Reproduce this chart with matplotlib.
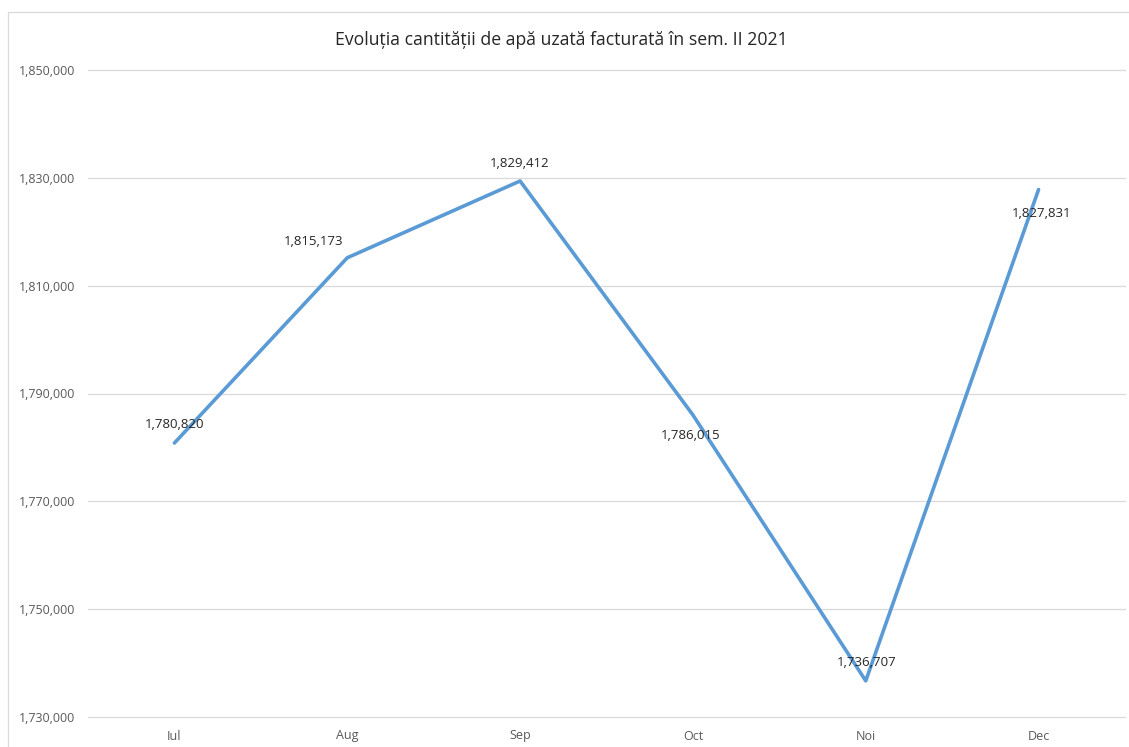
import matplotlib.pyplot as plt
from matplotlib.patches import Rectangle
from matplotlib.ticker import FuncFormatter

plt.rcParams['font.family'] = ['Open Sans', 'DejaVu Sans']

luni = ['Iul', 'Aug', 'Sep', 'Oct', 'Noi', 'Dec']
valori = [1780820, 1815173, 1829412, 1786015, 1736707, 1827831]
# decalaj etichete (pixeli) fata de punct
decalaje = [(0, 18), (-34, 16), (0, 18), (-2, -21), (1, 18), (3, -24)]
yticks = [1730000, 1750000, 1770000, 1790000, 1810000, 1830000, 1850000]

W, H = 1129, 747
fig = plt.figure(figsize=(W / 100, H / 100), dpi=100)
ax = fig.add_axes([88 / W, 1 - 717 / H, (1125 - 88) / W, (717 - 70) / H])

x = list(range(len(luni)))
ax.plot(x, valori, color='#5B9BD5', lw=2.6, solid_joinstyle='round', solid_capstyle='round', zorder=3)

for xi, v, (dx, dy) in zip(x, valori, decalaje):
    ax.annotate(f'{v:,}', (xi, v), xytext=(dx * 0.72, dy * 0.72), textcoords='offset points',
                ha='center', va='center', fontsize=9.5, color='#262626', zorder=4)

ax.set_xlim(-0.5, len(luni) - 0.5)
ax.set_ylim(yticks[0], yticks[-1])
ax.set_xticks(x)
ax.set_xticklabels(luni)
ax.set_yticks(yticks)
ax.yaxis.set_major_formatter(FuncFormatter(lambda v, p: f'{int(v):,}'))
ax.tick_params(axis='both', length=0, labelsize=9, labelcolor='#595959')
ax.tick_params(axis='y', pad=9.5)
ax.tick_params(axis='x', pad=9)
ax.grid(axis='y', color='#D9D9D9', lw=0.9)
for gl in ax.get_ygridlines():
    gl.set_clip_on(False)
ax.set_axisbelow(True)
for s in ax.spines.values():
    s.set_visible(False)

fig.text(561 / W, 1 - 40 / H, 'Evoluția cantității de apă uzată facturată în sem. II 2021',
         ha='center', va='center', fontsize=12.7, color='#262626')

# chenarul graficului
fig.patches.append(Rectangle((8 / W, -0.05), 1.2, 1 - 12 / H + 0.05, transform=fig.transFigure,
                             fill=False, edgecolor='#D9D9D9', lw=0.9))

fig.savefig('out.png', dpi=100)
